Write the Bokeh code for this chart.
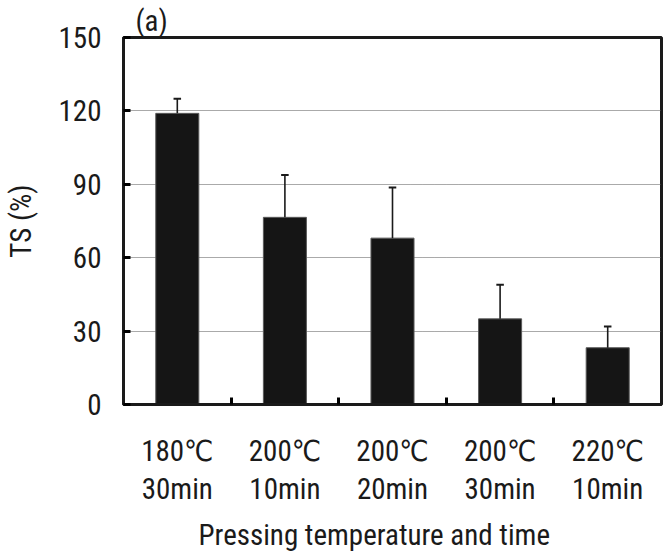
from bokeh.plotting import figure
from bokeh.models import FixedTicker, Range1d, Title
from bokeh.embed import file_html
from bokeh.resources import INLINE

# ---- data ----
temps = ["180℃", "200℃", "200℃", "200℃", "220℃"]
times = ["30min", "10min", "20min", "30min", "10min"]
ts_mean = [119.0, 76.5, 68.0, 35.0, 23.2]
ts_err = [6.0, 17.3, 20.7, 13.9, 8.7]
y_ticks = [0, 30, 60, 90, 120, 150]
grid_ticks = [30, 60, 90, 120]

FONT = "'Roboto Condensed', 'DejaVu Sans Condensed', 'Liberation Sans Narrow', Roboto, sans-serif"
INK = "#1a1a1a"

n = len(temps)
xc = [i + 0.5 for i in range(n)]
sep = [i for i in range(1, n)]
err_top = [m + e for m, e in zip(ts_mean, ts_err)]
cap = 0.035

p = figure(width=668, height=558, x_range=Range1d(0, n), y_range=Range1d(0, 150),
           output_backend="svg", toolbar_location=None,
           min_border_left=122, min_border_right=7, min_border_top=37, min_border_bottom=153)

p.background_fill_color = "white"
p.border_fill_color = "white"
p.outline_line_color = INK
p.outline_line_width = 3

# panel label "(a)"
p.title.text = "(a)"
p.title.align = "left"
p.title.offset = 12
p.title.text_font = FONT
p.title.text_font_size = "29px"
p.title.text_font_style = "normal"
p.title.text_color = INK
p.title.standoff = 0

# grid
p.xgrid.visible = False
p.ygrid.ticker = FixedTicker(ticks=grid_ticks)
p.ygrid.grid_line_color = "#555555"
p.ygrid.grid_line_dash = "1 1"
p.ygrid.grid_line_width = 1

# bars
p.vbar(x=xc, top=ts_mean, bottom=0, width=0.4, fill_color="#151515",
       line_color="#5a5a5a", line_width=1)

# error bars (upper only)
p.segment(x0=xc, y0=ts_mean, x1=xc, y1=err_top, line_color=INK, line_width=1.6)
p.segment(x0=[x - cap for x in xc], y0=err_top, x1=[x + cap for x in xc], y1=err_top,
          line_color=INK, line_width=2)

# y axis
ya = p.yaxis[0]
ya.ticker = FixedTicker(ticks=y_ticks)
ya.major_tick_in = 7
ya.major_tick_out = 0
ya.major_tick_line_width = 3
ya.minor_tick_line_color = None
ya.axis_line_width = 3
ya.axis_line_color = INK
ya.major_label_text_font = FONT
ya.major_label_text_font_size = "29px"
ya.major_label_text_color = INK
ya.major_label_standoff = 22
ya.axis_label = "TS (%)"
ya.axis_label_text_font = FONT
ya.axis_label_text_font_size = "29px"
ya.axis_label_text_font_style = "normal"
ya.axis_label_text_color = INK
ya.axis_label_standoff = 18

# x axis
xa = p.xaxis[0]
xa.ticker = FixedTicker(ticks=xc, minor_ticks=sep)
xa.major_label_overrides = {x: f"{t}\n{m}" for x, t, m in zip(xc, temps, times)}
xa.major_tick_in = 0
xa.major_tick_out = 0
xa.minor_tick_in = 7
xa.minor_tick_out = 0
xa.minor_tick_line_width = 3
xa.axis_line_width = 3
xa.axis_line_color = INK
xa.major_label_text_font = FONT
xa.major_label_text_font_size = "29px"
xa.major_label_text_color = INK
xa.major_label_text_line_height = 1.12
xa.major_label_standoff = 29

# x axis title, placed below and slightly left of centre as in the original
p.add_layout(Title(text="Pressing temperature  and time", align="left", offset=75,
                   vertical_align="bottom",
                   text_font=FONT, text_font_size="29px", text_font_style="normal",
                   text_color=INK, standoff=14), "below")

open("out.html", "w").write(file_html(p, INLINE))
